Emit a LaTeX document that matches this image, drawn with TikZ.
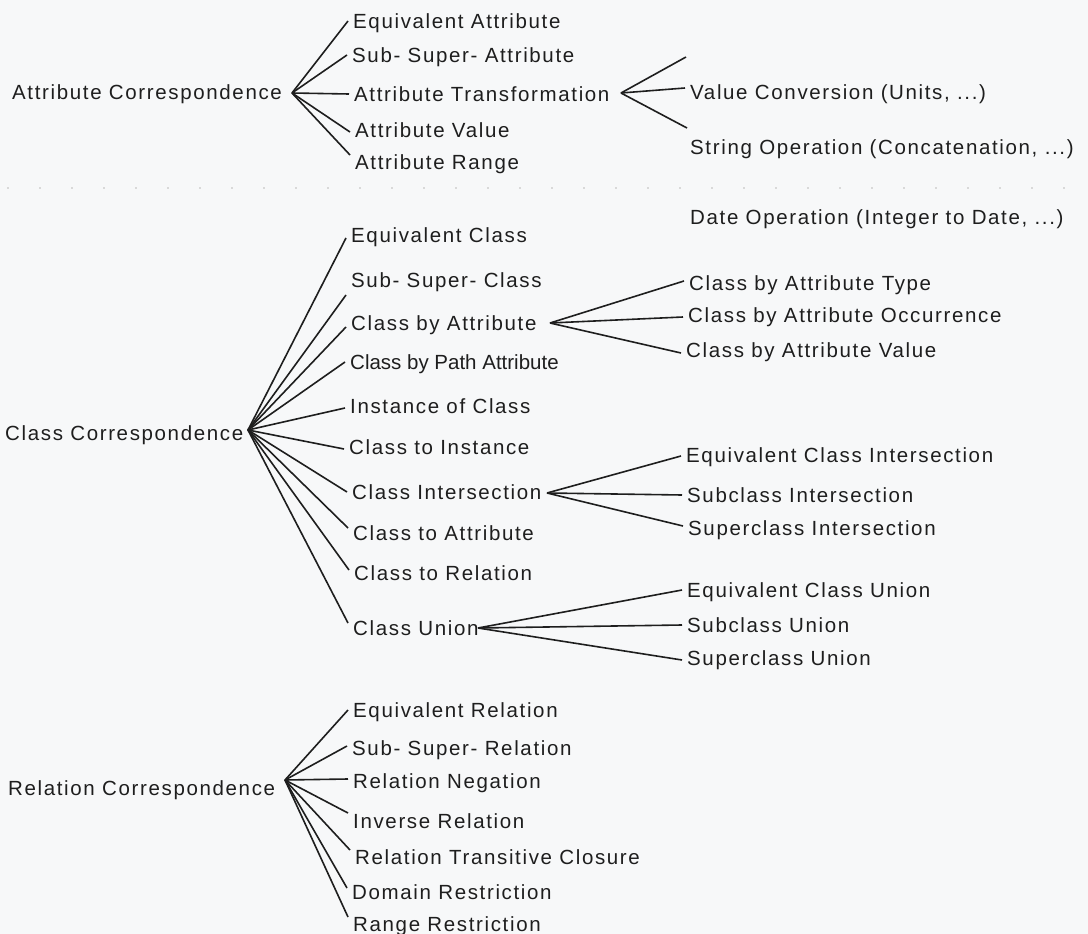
\documentclass[tikz,border=0pt]{standalone}
\usepackage{fontspec}
\setmainfont{Liberation Sans}[LetterSpace=8]
\newfontfamily\plainfont{Liberation Sans}
\definecolor{ink}{HTML}{1E1E1E}
\definecolor{paper}{HTML}{F7F8F9}
\begin{document}
\begin{tikzpicture}[x=1pt,y=-1pt,
  lbl/.style={anchor=mid west, inner xsep=5pt, inner ysep=0pt, yshift=-5pt, text=ink,
              font=\fontsize{20.5}{24}\selectfont},
  plainlbl/.style={lbl, font=\plainfont\fontsize{20.5}{24}\selectfont},
  link/.style={draw=ink, line width=1.6pt},
]
% page
\fill[paper] (0,0) rectangle (1088,934);
\useasboundingbox (0,0) rectangle (1088,934);
\draw[gray!30, line width=2pt, dash pattern=on 1.5pt off 30.5pt] (7,188) -- (1088,188);

% ---------- attribute correspondences ----------
\node[lbl] (ac) at (7,92) {Attribute Correspondence};
\coordinate (aA) at (292,93);
\node[lbl] (a1) at (348,21)  {Equivalent Attribute};
\node[lbl] (a2) at (347,55)  {Sub- Super- Attribute};
\node[lbl] (a3) at (349,94)  {Attribute Transformation};
\node[lbl] (a4) at (350,130) {Attribute Value};
\node[lbl] (a5) at (350,162) {Attribute Range};
\foreach \n/\dy in {a1/5, a2/5, a3/5, a4/3, a5/12}
  \draw[link] (aA) -- ([yshift=\dy pt]\n.mid west);

\coordinate (aT) at (621,93);
\coordinate (tTop) at (686,57);
\coordinate (tBot) at (687,128);
\node[lbl] (t1) at (685,92)  {Value Conversion (Units, ...)};
\node[lbl] (t2) at (685,147) {String Operation (Concatenation, ...)};
\node[lbl] (t3) at (685,217) {Date Operation (Integer to Date, ...)};
\draw[link] (aT) -- (tTop);
\draw[link] (aT) -- ([yshift=9pt]t1.mid west);
\draw[link] (aT) -- (tBot);

% ---------- class correspondences ----------
\node[lbl] (cc) at (0,433) {Class Correspondence};
\coordinate (aC) at (248,430);
\node[lbl] (c1)  at (346,235) {Equivalent Class};
\node[lbl] (c2)  at (346,280) {Sub- Super- Class};
\node[lbl] (c3)  at (346,323) {Class by Attribute};
\node[plainlbl] (c4) at (345,362) {Class by Path Attribute};
\node[lbl] (c5)  at (345,406) {Instance of Class};
\node[lbl] (c6)  at (344,447) {Class to Instance};
\node[lbl] (c7)  at (347,492) {Class Intersection};
\node[lbl] (c8)  at (348,533) {Class to Attribute};
\node[lbl] (c9)  at (349,573) {Class to Relation};
\node[lbl] (c10) at (348,628) {Class Union};
\foreach \n/\dy in {c1/2, c2/-10, c3/1, c4/5, c5/3, c6/3, c7/5, c8/10, c9/8, c10/10}
  \draw[link] (aC) -- ([yshift=\dy pt]\n.mid west);

% class by attribute
\coordinate (aCA) at (550,323);
\node[lbl] (ca1) at (684,283) {Class by Attribute Type};
\node[lbl] (ca2) at (683,315) {Class by Attribute Occurrence};
\node[lbl] (ca3) at (681,350) {Class by Attribute Value};
\foreach \n/\dy in {ca1/7, ca2/3, ca3/2}
  \draw[link] (aCA) -- ([yshift=\dy pt]\n.mid west);

% class intersection
\coordinate (aCI) at (547,493);
\node[lbl] (ci1) at (681,455) {Equivalent Class Intersection};
\node[lbl] (ci2) at (682,495) {Subclass Intersection};
\node[lbl] (ci3) at (683,528) {Superclass Intersection};
\foreach \n/\dy in {ci1/4, ci2/5, ci3/7}
  \draw[link] (aCI) -- ([yshift=\dy pt]\n.mid west);

% class union
\coordinate (aCU) at (478,628);
\node[lbl] (cu1) at (682,590) {Equivalent Class Union};
\node[lbl] (cu2) at (682,625) {Subclass Union};
\node[lbl] (cu3) at (682,658) {Superclass Union};
\foreach \n/\dy in {cu1/5, cu2/5, cu3/3}
  \draw[link] (aCU) -- ([yshift=\dy pt]\n.mid west);

% ---------- relation correspondences ----------
\node[lbl] (rc) at (3,788) {Relation Correspondence};
\coordinate (aR) at (285,780);
\node[lbl] (r1) at (348,710) {Equivalent Relation};
\node[lbl] (r2) at (347,748) {Sub- Super- Relation};
\node[lbl] (r3) at (348,781) {Relation Negation};
\node[lbl] (r4) at (348,821) {Inverse Relation};
\node[lbl] (r5) at (350,857) {Relation Transitive Closure};
\node[lbl] (r6) at (347,892) {Domain Restriction};
\node[lbl] (r7) at (348,924) {Range Restriction};
\foreach \n/\dy in {r1/5, r2/7, r3/7, r4/13, r5/12, r6/9, r7/12}
  \draw[link] (aR) -- ([yshift=\dy pt]\n.mid west);
\end{tikzpicture}
\end{document}
